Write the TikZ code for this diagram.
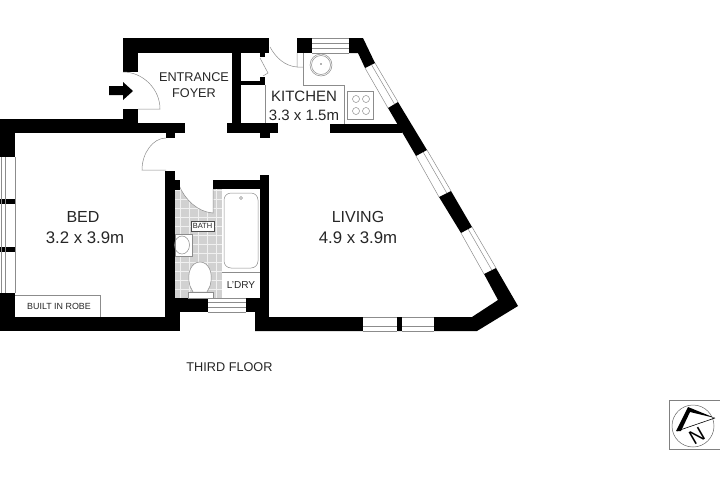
\documentclass[tikz,border=0pt]{standalone}
\usepackage{fontspec}
\setmainfont{Liberation Sans}
\usetikzlibrary{calc}
\newcommand{\sized}[1]{\fontsize{#1}{#1}\selectfont}
\begin{document}
\begin{tikzpicture}[x=1pt, y=-1pt,
    wall/.style = {fill=black},
    fine/.style = {draw=black!45, line width=0.5pt},
    tile/.style = {black!6, line width=0.7pt},
    room/.style = {text=black!85, inner sep=0pt, font=\sized{16}},
    size/.style = {text=black!85, inner sep=0pt, font=\sized{16.8}},
    small/.style = {text=black!85, inner sep=0pt, font=\sized{12.7}}]
    \useasboundingbox (0,0) rectangle (720,498);

    % bathroom floor
    \fill[black!18] (175,185) rectangle (222,298);
    \foreach \tx in {180,189,...,216} {
        \draw[tile] (\tx,185) -- (\tx,298);
    }
    \foreach \ty in {190,199,...,298} {
        \draw[tile] (175,\ty) -- (222,\ty);
    }
    \fill[white] (175,180) -- (179,185) .. controls (185,200) and (198,212) .. (213,213) -- (213,180) -- cycle;
    \fill[white] (213,180) rectangle (222,189);
    \draw[fine] (179,185) .. controls (185,200) and (198,212) .. (213,213) -- (213,189);

    % outer walls
    \fill[wall] (0,119) rectangle (138,133);
    \fill[wall] (138,123) rectangle (185,133);
    \fill[wall] (0,119) rectangle (15,157);
    \fill[wall] (0,293) rectangle (15,331);
    \fill[wall] (0,199) rectangle (15,204);
    \fill[wall] (0,247) rectangle (15,252);
    \fill[wall] (0,317) rectangle (180,331);
    \fill[wall] (123,38) rectangle (269,53);
    \fill[wall] (123,38) rectangle (138,72);
    \fill[wall] (123,109) rectangle (138,123);
    \fill[wall] (297,38) rectangle (312,53);
    \fill[wall] (349,38) -- (363,38) -- (375,63) -- (365,68) -- (358,53) -- (349,53) -- cycle;
    \fill[wall] (398,102) -- (427,150) -- (416,156) -- (388,108) -- cycle;
    \fill[wall] (451,191) -- (472,227) -- (461,233) -- (439,197) -- cycle;
    \fill[wall] (496,268) -- (518,306) -- (477,331) -- (255,331) -- (255,317) -- (472,317) -- (498,300) -- (484,274) -- cycle;

    % inner walls
    \fill[wall] (232,53) rectangle (241,123);
    \fill[wall] (227,123) rectangle (278,133);
    \fill[wall] (260,133) rectangle (270,138);
    \fill[wall] (166,133) rectangle (175,138);
    \fill[wall] (241,81) rectangle (265,85);
    \fill[wall] (260,77) rectangle (265,85);
    \fill[wall] (260,53) rectangle (265,57);
    \fill[wall] (330,124) rectangle (402,133);
    \fill[wall] (165,171) rectangle (175,331);
    \fill[wall] (175,180) rectangle (180,190);
    \fill[wall] (175,298) rectangle (208,312);
    \fill[wall] (175,312) rectangle (180,317);
    \fill[wall] (213,180) rectangle (260,189);
    \fill[wall] (260,175) rectangle (269,331);
    \fill[wall] (246,298) rectangle (260,312);
    \fill[wall] (255,312) rectangle (260,317);

    % windows
    \fill[white] (363,317) rectangle (434,331);
    \fill[wall] (397,317) rectangle (402,331);
    \draw[fine] (363,317) -- (397,317) (402,317) -- (434,317) (363,326) -- (397,326) (402,326) -- (434,326) (363,331) -- (397,331) (402,331) -- (434,331);
    \draw[fine] (312,38) -- (349,38) (312,43) -- (349,43) (312,48) -- (349,48) (312,53) -- (349,53);
    \draw[fine] (208,298) -- (246,298) (208,302) -- (246,302) (208,307) -- (246,307) (208,312) -- (246,312);
    \draw[fine] (1,157) -- (1,293) (5,157) -- (5,293) (15,157) -- (15,293);
    \draw[fine] (375,63) -- (398,102) (365,68) -- (388,108) ($(375,63)!0.35!(365,68)$) -- ($(398,102)!0.35!(388,108)$);
    \draw[fine] (427,150) -- (451,191) (416,156) -- (439,197) ($(427,150)!0.35!(416,156)$) -- ($(451,191)!0.35!(439,197)$);
    \draw[fine] (472,227) -- (496,268) (461,233) -- (484,274) ($(472,227)!0.35!(461,233)$) -- ($(496,268)!0.35!(484,274)$);

    % doors
    \draw[fine] (123,72) .. controls (143,72) and (160,89) .. (160,109) -- (138,109);
    \draw[fine] (166,138) .. controls (153,138) and (142,153) .. (142,170) -- (166,170);
    \draw[fine] (270,47) .. controls (276,58) and (285,66) .. (297,67) -- (303,67) (297,53) -- (297,67);
    \draw[fine] (260,58) -- (268,73) -- (263,76);
    \fill[wall] (109,86) -- (123,86) -- (123,82) -- (133,91) -- (123,100) -- (123,95) -- (109,95) -- cycle;

    % kitchen fittings
    \draw[fine] (265,85) -- (265,123);
    \draw[fine] (303,53) -- (303,85) -- (344,85) -- (344,124);
    \draw[fine] (347,91) rectangle (373,119);
    \draw[fine] (356,99) circle (3.5) (366,99) circle (3.5) (356,111) circle (3.5) (366,111) circle (3.5);
    \draw[fine] (321,65) circle (11) (321,65) circle (9.5);
    \fill[black!60] (321,64) circle (0.8);

    % bathroom fittings
    \draw[fine, rounded corners=7pt] (224,193) rectangle (258,268);
    \draw[fine] (241,198) circle (1.5);
    \draw[fine] (222,272) -- (260,272);
    \draw[fine, fill=white] (175,234) rectangle (192,256);
    \draw[fine] (182,245) ellipse (7.5 and 9);
    \draw[fine, fill=white] (193,292) -- (190,286) .. controls (186,272) and (192,262) .. (200,262) .. controls (208,262) and (214,272) .. (210,286) -- (207,292) -- cycle;
    \draw[fine, fill=white] (188,292) rectangle (213,298);
    \draw[fine] (15,295) -- (100,295) -- (100,317);

    % labels
    \node[small] (entrance) at (194,77) {ENTRANCE};
    \node[small] (foyer) at (194,93) {FOYER};
    \node[room, font=\sized{15}] (kitchen) at (304,96) {KITCHEN};
    \node[room, font=\sized{15}] (kitchensize) at (304,115) {3.3 x 1.5m};
    \node[room] (bed) at (83,217) {BED};
    \node[size] (bedsize) at (85,238) {3.2 x 3.9m};
    \node[room] (living) at (358,217) {LIVING};
    \node[size] (livingsize) at (358,238) {4.9 x 3.9m};
    \node[room, font=\sized{10.1}] (ldry) at (241,285) {L'DRY};
    \node[draw=black!70, line width=0.5pt, fill=white, minimum width=23pt, minimum height=10pt, inner sep=0pt, text=black!85, font=\sized{7.5}] (bath) at (202.5,226) {BATH};
    \node[room, font=\sized{8.9}] (robe) at (59,306) {BUILT IN ROBE};
    \node[small] (floor) at (229.5,367.5) {THIRD FLOOR};

    % compass
    \draw[black!50, line width=0.7pt] (669,400) rectangle (720,449);
    \draw[black!60, line width=0.5pt] (693,426) circle (21);
    \fill[wall] (676,431) -- (688,407) -- (715,418) -- (690,412) -- (681,431) -- cycle;
    \draw[line width=0.6pt] (677,431) -- (715,418);
    \node[inner sep=0pt, rotate=30, font=\sized{20}] (north) at (697,436) {N};
\end{tikzpicture}
\end{document}
